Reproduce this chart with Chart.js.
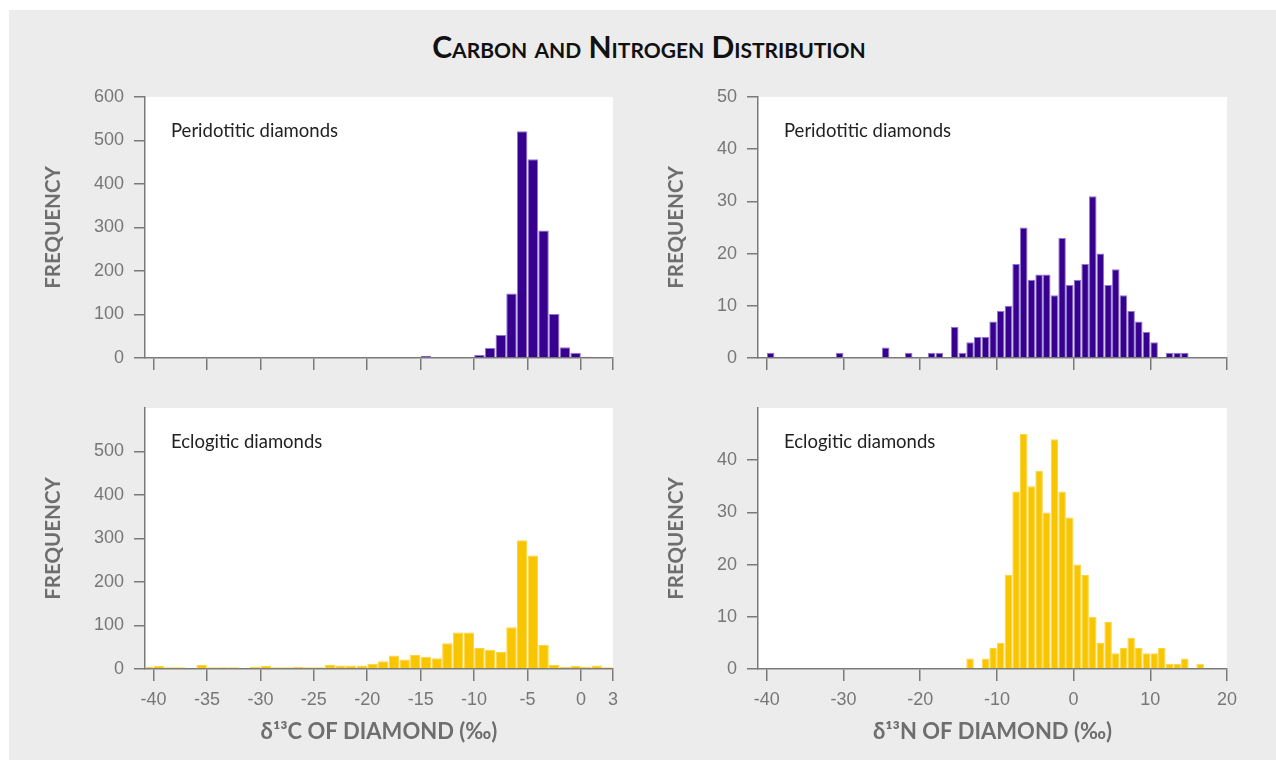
<!DOCTYPE html>
<html>
<head>
<meta charset="utf-8">
<script src="https://cdn.jsdelivr.net/npm/chart.js@4.4.1/dist/chart.umd.min.js"></script>
<style>
  body { margin: 0; background: #fff; width: 1276px; height: 760px; overflow: hidden; position: relative; }
  #panel { position: absolute; left: 9px; top: 10px; width: 1267px; height: 750px; background: #ececec; }
  #title {
    position: absolute; left: 20px; top: 29px; width: 1258px; text-align: center;
    font-family: Lato, sans-serif; font-weight: bold; font-size: 30px; font-variant: small-caps;
    color: #111; line-height: 34px;
  }
  canvas { position: absolute; }
</style>
</head>
<body>
<div id="panel"></div>
<div id="title">Carbon and Nitrogen Distribution</div>
<canvas id="carbonPer" width="640" height="310" style="left:0;top:80px"></canvas>
<canvas id="nitrogenPer" width="636" height="310" style="left:640px;top:80px"></canvas>
<canvas id="carbonEcl" width="640" height="370" style="left:0;top:390px"></canvas>
<canvas id="nitrogenEcl" width="636" height="370" style="left:640px;top:390px"></canvas>
<script>
// bin centres (1 per mil wide bins) and counts
const carbonPerBins = [-14.5, -11.5, -10.5, -9.5, -8.5, -7.5, -6.5, -5.5, -4.5, -3.5, -2.5, -1.5, -0.5, 0.5];
const carbonPerCounts = [5, 2, 2, 7, 23, 53, 148, 521, 457, 293, 101, 25, 12, 3];

const carbonEclBins = [-40.5, -39.5, -38.5, -37.5, -36.5, -35.5, -34.5, -33.5, -32.5, -31.5, -30.5,
    -29.5, -28.5, -27.5, -26.5, -25.5, -24.5, -23.5, -22.5, -21.5, -20.5, -19.5, -18.5, -17.5,
    -16.5, -15.5, -14.5, -13.5, -12.5, -11.5, -10.5, -9.5, -8.5, -7.5, -6.5, -5.5, -4.5, -3.5,
    -2.5, -1.5, -0.5, 0.5, 1.5, 2.5];
const carbonEclCounts = [5, 7, 4, 4, 0, 9, 4, 4, 4, 0, 5,
    7, 4, 4, 5, 4, 4, 9, 8, 8, 8, 12, 18, 31,
    22, 32, 28, 25, 59, 84, 84, 48, 44, 39, 96, 296, 261, 55,
    9, 5, 7, 5, 8, 4];

const nitrogenPerBins = [-39.5, -30.5, -24.5, -21.5, -18.5, -17.5, -15.5, -14.5, -13.5, -12.5, -11.5,
    -10.5, -9.5, -8.5, -7.5, -6.5, -5.5, -4.5, -3.5, -2.5, -1.5, -0.5, 0.5, 1.5, 2.5, 3.5,
    4.5, 5.5, 6.5, 7.5, 8.5, 9.5, 10.5, 11.5, 12.5, 13.5, 14.5];
const nitrogenPerCounts = [1, 1, 2, 1, 1, 1, 6, 1, 3, 4, 4,
    7, 9, 10, 18, 25, 15, 16, 16, 12, 23, 14, 15, 18, 31, 20,
    14, 17, 12, 9, 7, 5, 3, 0, 1, 1, 1];

const nitrogenEclBins = [-13.5, -11.5, -10.5, -9.5, -8.5, -7.5, -6.5, -5.5, -4.5, -3.5, -2.5, -1.5,
    -0.5, 0.5, 1.5, 2.5, 3.5, 4.5, 5.5, 6.5, 7.5, 8.5, 9.5, 10.5, 11.5, 12.5, 13.5, 14.5, 16.5];
const nitrogenEclCounts = [2, 2, 4, 5, 18, 34, 45, 35, 38, 30, 44, 34,
    29, 20, 18, 10, 5, 9, 3, 4, 6, 4, 3, 3, 4, 1, 1, 2, 1];

// tick labels
const carbonXTicks = [-40, -35, -30, -25, -20, -15, -10, -5, 0, 3];
const nitrogenXTicks = [-40, -30, -20, -10, 0, 10, 20];
const carbonYTicksTop = [0, 100, 200, 300, 400, 500, 600];
const carbonYTicksBottom = [0, 100, 200, 300, 400, 500];
const nitrogenYTicksTop = [0, 10, 20, 30, 40, 50];
const nitrogenYTicksBottom = [0, 10, 20, 30, 40];

const purple = { fill: "#38008f", edge: "#8f78d2" };
const yellow = { fill: "#f8c600", edge: "#fcd440" };
const axisColor = "#7a7a7a";

const panelBackground = {
    id: "panelBackground",
    beforeDraw(chart, args, opts) {
        const { ctx, chartArea: a } = chart;
        ctx.save();
        ctx.fillStyle = "#fff";
        ctx.fillRect(a.left, a.top, a.right - a.left, a.bottom - a.top);
        ctx.font = "18.5px Lato";
        ctx.fillStyle = "#222";
        ctx.textBaseline = "middle";
        ctx.fillText(opts.label, a.left + 26, a.top + 34);
        ctx.restore();
    },
};

function makeHistogram(id, cfg) {
    const points = cfg.bins.map((x, i) => ({ x: x, y: cfg.counts[i] }));
    return new Chart(document.getElementById(id), {
        type: "bar",
        data: {
            datasets: [{
                data: points,
                backgroundColor: cfg.color.fill,
                borderColor: cfg.color.edge,
                borderWidth: 1,
                borderSkipped: "start",
                barPercentage: 0.98,
                categoryPercentage: 1,
            }],
        },
        plugins: [panelBackground],
        options: {
            responsive: false,
            animation: false,
            layout: { padding: { top: cfg.padTop, right: cfg.padRight, left: 0, bottom: 0 } },
            plugins: {
                legend: { display: false },
                tooltip: { enabled: false },
                panelBackground: { label: cfg.label },
            },
            scales: {
                x: {
                    type: "linear",
                    min: cfg.xMin,
                    max: cfg.xMax,
                    offset: false,
                    afterBuildTicks: (s) => { s.ticks = cfg.xTicks.map((v) => ({ value: v })); },
                    afterFit: (s) => { s.height = cfg.xHeight; s.paddingLeft = 0; s.paddingRight = 0; },
                    grid: { offset: false, drawOnChartArea: false, tickLength: 12, color: axisColor, lineWidth: 1.5 },
                    border: { color: axisColor, width: 1.5 },
                    ticks: {
                        display: cfg.showX,
                        autoSkip: false,
                        maxRotation: 0,
                        padding: 8,
                        color: "#777",
                        font: { family: "Liberation Sans", size: 18 },
                    },
                    title: {
                        display: cfg.showX,
                        text: cfg.xTitle,
                        color: "#6e6e6e",
                        font: { family: "Lato", size: 22, weight: "bold" },
                        padding: { top: 0, bottom: 15 },
                    },
                },
                y: {
                    min: 0,
                    max: cfg.yMax,
                    afterBuildTicks: (s) => { s.ticks = cfg.yTicks.map((v) => ({ value: v })); },
                    afterFit: (s) => { s.width = cfg.yWidth; s.paddingTop = 0; s.paddingBottom = 0; },
                    grid: { drawOnChartArea: false, tickLength: 11, color: axisColor, lineWidth: 1.5 },
                    border: { color: axisColor, width: 1.5 },
                    ticks: {
                        padding: 10,
                        color: "#777",
                        font: { family: "Liberation Sans", size: 18 },
                    },
                    title: {
                        display: true,
                        text: "FREQUENCY",
                        color: "#6e6e6e",
                        font: { family: "Lato", size: 20.5, weight: "bold" },
                        padding: { top: cfg.yTitlePad, bottom: 0 },
                    },
                },
            },
        },
    });
}

makeHistogram("carbonPer", {
    bins: carbonPerBins, counts: carbonPerCounts, color: purple, label: "Peridotitic diamonds",
    xMin: -40.8, xMax: 3, xTicks: carbonXTicks, yMax: 600, yTicks: carbonYTicksTop,
    padTop: 17, padRight: 27, yWidth: 145, xHeight: 32, yTitlePad: 41, showX: false, xTitle: "",
});
makeHistogram("nitrogenPer", {
    bins: nitrogenPerBins, counts: nitrogenPerCounts, color: purple, label: "Peridotitic diamonds",
    xMin: -41.15, xMax: 20, xTicks: nitrogenXTicks, yMax: 50, yTicks: nitrogenYTicksTop,
    padTop: 17, padRight: 49, yWidth: 118, xHeight: 32, yTitlePad: 24, showX: false, xTitle: "",
});
makeHistogram("carbonEcl", {
    bins: carbonEclBins, counts: carbonEclCounts, color: yellow, label: "Eclogitic diamonds",
    xMin: -40.8, xMax: 3, xTicks: carbonXTicks, yMax: 600, yTicks: carbonYTicksBottom,
    padTop: 18, padRight: 27, yWidth: 145, xHeight: 91, yTitlePad: 41, showX: true,
    xTitle: "δ¹³C OF DIAMOND (‰)",
});
makeHistogram("nitrogenEcl", {
    bins: nitrogenEclBins, counts: nitrogenEclCounts, color: yellow, label: "Eclogitic diamonds",
    xMin: -41.15, xMax: 20, xTicks: nitrogenXTicks, yMax: 50, yTicks: nitrogenYTicksBottom,
    padTop: 18, padRight: 49, yWidth: 118, xHeight: 91, yTitlePad: 24, showX: true,
    xTitle: "δ¹³N OF DIAMOND (‰)",
});
</script>
</body>
</html>
